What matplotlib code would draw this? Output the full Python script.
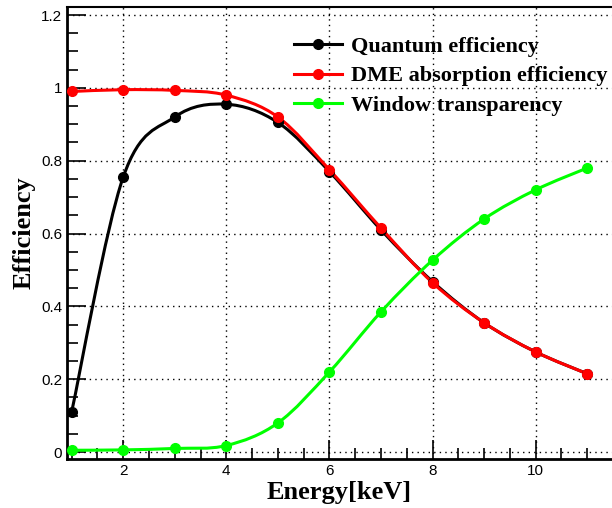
import matplotlib

matplotlib.use("Agg")
import matplotlib.pyplot as plt
from matplotlib.lines import Line2D
from matplotlib.patches import PathPatch
from matplotlib.path import Path
from matplotlib.ticker import MultipleLocator

energy = [1, 2, 3, 4, 5, 6, 7, 8, 9, 10, 11]
quantum_eff = [0.11, 0.755, 0.92, 0.955, 0.905, 0.77, 0.61, 0.468, 0.355, 0.275, 0.215]
dme_abs_eff = [0.99, 0.995, 0.993, 0.98, 0.92, 0.775, 0.615, 0.465, 0.355, 0.275, 0.215]
window_trans = [0.005, 0.006, 0.01, 0.018, 0.08, 0.22, 0.385, 0.527, 0.64, 0.72, 0.78]

SERIES = [
    ("Quantum efficiency", quantum_eff, "black"),
    ("DME absorption efficiency", dme_abs_eff, "#ff0000"),
    ("Window transparency", window_trans, "#00ff00"),
]

SERIF = ["Liberation Serif", "DejaVu Serif"]
SANS = ["Liberation Sans", "DejaVu Sans"]


def smooth_path(xs, ys):
    """Catmull-Rom curve through the points, as cubic Bezier segments."""
    pts = list(zip(xs, ys))
    ext = [pts[0]] + pts + [pts[-1]]
    verts = [pts[0]]
    codes = [Path.MOVETO]
    for i in range(1, len(ext) - 2):
        p0, p1, p2, p3 = ext[i - 1], ext[i], ext[i + 1], ext[i + 2]
        c1 = (p1[0] + (p2[0] - p0[0]) / 6, p1[1] + (p2[1] - p0[1]) / 6)
        c2 = (p2[0] - (p3[0] - p1[0]) / 6, p2[1] - (p3[1] - p1[1]) / 6)
        verts += [c1, c2, p2]
        codes += [Path.CURVE4] * 3
    return Path(verts, codes)


fig = plt.figure(figsize=(6.12, 5.08), dpi=100)
ax = fig.add_axes([67 / 612, 1 - 459 / 508, 1 - 67 / 612, (459 - 7) / 508])

handles = []
for label, vals, colour in SERIES:
    ax.add_patch(PathPatch(smooth_path(energy, vals), facecolor="none",
                           edgecolor=colour, linewidth=2.2, zorder=3))
    ax.plot(energy, vals, linestyle="none", marker="o", markersize=7,
            color=colour, zorder=4)
    handles.append(Line2D([], [], color=colour, linewidth=2.2, marker="o",
                          markersize=7, label=label))

ax.set_xlim(0.91, 11.48)
ax.set_ylim(-0.019, 1.222)

ax.xaxis.set_major_locator(MultipleLocator(2))
ax.xaxis.set_minor_locator(MultipleLocator(0.5))
ax.yaxis.set_major_locator(MultipleLocator(0.2))
ax.yaxis.set_minor_locator(MultipleLocator(0.05))
ax.set_yticks([0, 0.2, 0.4, 0.6, 0.8, 1.0, 1.2])
ax.set_yticklabels(["0", "0.2", "0.4", "0.6", "0.8", "1", "1.2"])

ax.tick_params(which="both", direction="in", top=False, right=False,
               labelsize=11, colors="black", width=1.2)
ax.tick_params(which="major", length=14)
ax.tick_params(which="minor", length=8)
for lab in ax.get_xticklabels() + ax.get_yticklabels():
    lab.set_fontfamily(SANS)

ax.grid(which="major", color="black", linestyle=(0, (1, 3)), linewidth=1)
ax.set_axisbelow(True)

for side in ("left", "bottom"):
    ax.spines[side].set_linewidth(2)
ax.spines["top"].set_linewidth(1.5)
ax.spines["right"].set_visible(False)

ax.set_xlabel("Energy[keV]", fontsize=19, fontweight="bold", family=SERIF,
              labelpad=2)
ax.set_ylabel("Efficiency", fontsize=19, fontweight="bold", family=SERIF,
              labelpad=4)

ax.legend(handles=handles, loc="upper left", bbox_to_anchor=(0.40, 0.954),
          frameon=False, handlelength=2.15, handletextpad=0.4,
          labelspacing=0.39, borderaxespad=0,
          prop={"family": SERIF, "weight": "bold", "size": 16})

fig.savefig("out.png", dpi=100, facecolor="white")
